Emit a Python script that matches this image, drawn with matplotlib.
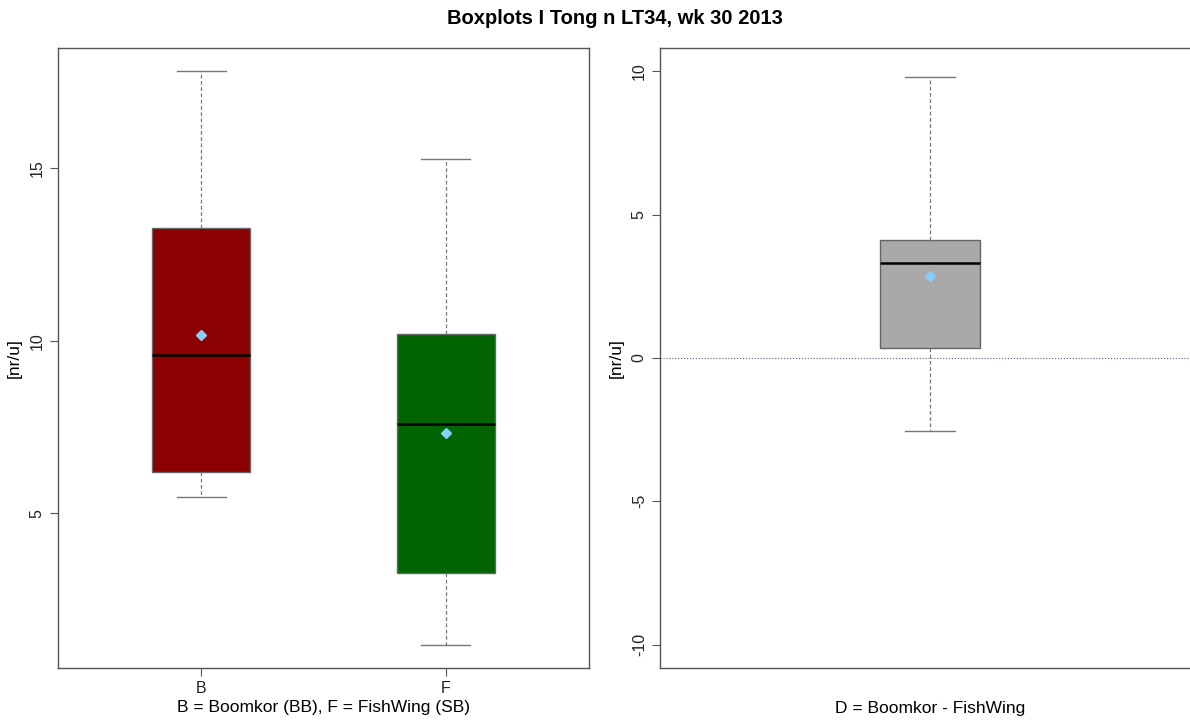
import matplotlib.pyplot as plt

plt.rcParams['font.family'] = ['Liberation Sans', 'DejaVu Sans']
plt.rcParams['axes.unicode_minus'] = False

# boxplot stats
groups = ['B', 'F']
low = [5.49, 1.19]
q1 = [6.19, 3.26]
med = [9.59, 7.59]
q3 = [13.28, 10.20]
high = [17.82, 15.26]
means = [10.17, 7.33]
colors = ['#8B0000', '#006400']

diff_stats = {'whislo': -2.55, 'q1': 0.35, 'med': 3.32, 'q3': 4.12, 'whishi': 9.81, 'mean': 2.86}
diff_color = '#A9A9A9'

edge = '#666666'
whisk = dict(color='#777777', linestyle=(0, (3, 2)), linewidth=0.9)
caps = dict(color='#777777', linewidth=1)
medp = dict(color='black', linewidth=1.8)
meanp = dict(marker='D', markerfacecolor='#87CEFA', markeredgecolor='#87CEFA', markersize=5)

fig = plt.figure(figsize=(11.9, 7.22), dpi=100)
fig.suptitle('Boxplots I Tong n LT34, wk 30 2013', fontsize=14.5, fontweight='bold',
             x=615/1190, y=0.988)

def style(ax):
    for s in ax.spines.values():
        s.set_color('#555555')
        s.set_linewidth(1)
    ax.tick_params(colors='#555555', labelcolor='#222222', length=6, labelsize=11.5)
    for lab in ax.get_yticklabels():
        lab.set_rotation(90)
        lab.set_va('center')

# left panel
ax1 = fig.add_axes([58/1190, 54/722, 531/1190, 620/722])
stats = []
for i in range(len(groups)):
    stats.append({'label': groups[i], 'whislo': low[i], 'q1': q1[i], 'med': med[i],
                  'q3': q3[i], 'whishi': high[i], 'mean': means[i]})
bp = ax1.bxp(stats, positions=[1, 2], widths=0.4, capwidths=0.2, patch_artist=True,
             showmeans=True, showfliers=False, whiskerprops=whisk, capprops=caps,
             medianprops=medp, meanprops=meanp, boxprops=dict(edgecolor=edge, linewidth=1))
for patch, c in zip(bp['boxes'], colors):
    patch.set_facecolor(c)
ax1.set_xlim(0.416, 2.584)
ax1.set_ylim(0.52, 18.49)
ax1.set_yticks([5, 10, 15])
ax1.set_ylabel('[nr/u]', fontsize=12.5, labelpad=6)
ax1.set_xlabel('B = Boomkor (BB), F = FishWing (SB)', fontsize=12.5, labelpad=3)
style(ax1)

# right panel
ax2 = fig.add_axes([660/1190, 54/722, 540/1190, 620/722])
diff_stats['label'] = 'D'
bp2 = ax2.bxp([diff_stats], positions=[1], widths=0.4, capwidths=0.2, patch_artist=True,
              showmeans=True, showfliers=False, whiskerprops=whisk, capprops=caps,
              medianprops=medp, meanprops=meanp, boxprops=dict(edgecolor=edge, linewidth=1))
bp2['boxes'][0].set_facecolor(diff_color)
ax2.axhline(0, color='#555577', linestyle=':', linewidth=0.8, zorder=0)
ax2.set_xlim(-0.09, 2.09)
ax2.set_ylim(-10.82, 10.82)
ax2.set_yticks([-10, -5, 0, 5, 10])
ax2.set_xticks([])
ax2.set_ylabel('[nr/u]', fontsize=12.5, labelpad=6)
ax2.set_xlabel('D = Boomkor - FishWing', fontsize=12.5, labelpad=24)
style(ax2)

fig.savefig('out.png', dpi=100)
